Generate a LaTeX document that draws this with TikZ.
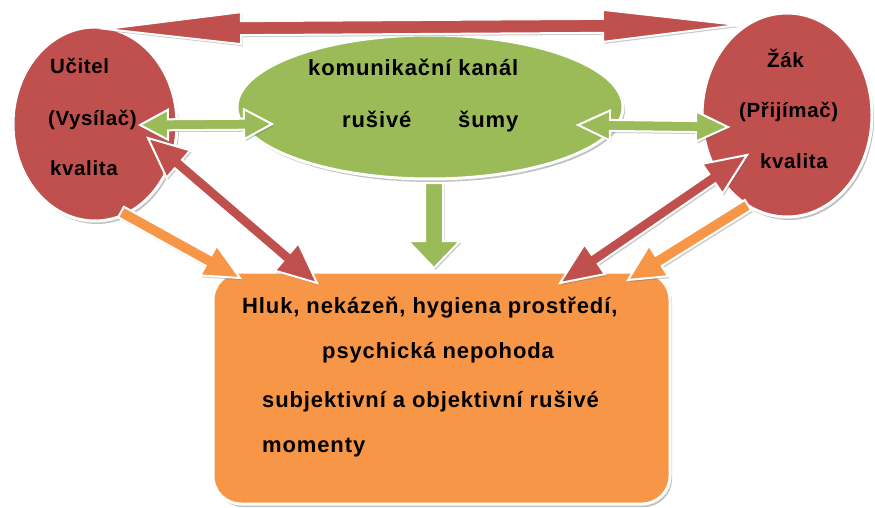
\documentclass[tikz,border=0pt]{standalone}
\usepackage{fontspec}
\setmainfont{Liberation Sans}
\usetikzlibrary{calc,shadows,shapes.geometric}
\definecolor{cred}{HTML}{C0504D}
\definecolor{cgreen}{HTML}{9BBB59}
\definecolor{corange}{HTML}{F79646}
\tikzset{
  blob/.style={shape=ellipse, draw=white, line width=3pt, inner sep=0pt,
    drop shadow={shadow xshift=2pt,shadow yshift=-3pt,opacity=0.4,fill=black!60}},
  boxshape/.style={shape=rectangle, rounded corners=28pt, draw=white, line width=3pt, inner sep=0pt,
    drop shadow={shadow xshift=2pt,shadow yshift=-3pt,opacity=0.4,fill=black!60}},
  barrow/.style={draw=white, line width=2pt, line join=miter,
    drop shadow={shadow xshift=1.5pt,shadow yshift=-2pt,opacity=0.35,fill=black!60}},
  lab/.style={anchor=base west, inner sep=0pt, text=black,
    font=\fontsize{22}{26}\selectfont\bfseries\addfontfeature{LetterSpace=4}},
  clab/.style={anchor=base west, inner sep=0pt, text=black,
    font=\fontsize{20.5}{24}\selectfont\bfseries\addfontfeature{LetterSpace=3}}
}
% double block arrow: tips #1,#2; shaft half width #3; head half width #4; head length #5; colour #6
\newcommand\dblarrow[6]{%
  \filldraw[barrow, fill=#6]
   (#1) -- ($(#1)!#5!(#2)!#4!90:(#2)$) -- ($(#1)!#5!(#2)!#3!90:(#2)$)
   -- ($(#2)!#5!(#1)!#3!-90:(#1)$) -- ($(#2)!#5!(#1)!#4!-90:(#1)$) -- (#2)
   -- ($(#2)!#5!(#1)!#4!90:(#1)$) -- ($(#2)!#5!(#1)!#3!90:(#1)$)
   -- ($(#1)!#5!(#2)!#3!-90:(#2)$) -- ($(#1)!#5!(#2)!#4!-90:(#2)$) -- cycle;}
% single block arrow: tail #1, tip #2
\newcommand\sglarrow[6]{%
  \filldraw[barrow, fill=#6]
   ($(#1)!#3!90:(#2)$) -- ($(#2)!#5!(#1)!#3!-90:(#1)$) -- ($(#2)!#5!(#1)!#4!-90:(#1)$) -- (#2)
   -- ($(#2)!#5!(#1)!#4!90:(#1)$) -- ($(#2)!#5!(#1)!#3!90:(#1)$) -- ($(#1)!#3!-90:(#2)$) -- cycle;}
\begin{document}
\begin{tikzpicture}[x=1pt,y=-1pt]
\useasboundingbox (0,0) rectangle (875,508);
% shapes
\node[blob, fill=cred, minimum width=164pt, minimum height=194pt] (uc) at (95,124) {};
\node[blob, fill=cred, minimum width=170pt, minimum height=204pt] (zak) at (787,115) {};
\node[blob, fill=cgreen, minimum width=386pt, minimum height=144pt] (kanal) at (430,107) {};
\node[boxshape, fill=corange, minimum width=457pt, minimum height=232pt] (box) at (441.5,388) {};
% arrow end points
\coordinate (topL) at (106,29);
\coordinate (topR) at (738,25);
\coordinate (gl1) at (140,125);
\coordinate (gl2) at (272,124);
\coordinate (gr1) at (578,125);
\coordinate (gr2) at (728,127);
\coordinate (gd1) at (434,183);
\coordinate (gd2) at (434,268);
\coordinate (rl1) at (148,138);
\coordinate (rl2) at (317,283);
\coordinate (ol1) at (121,212);
\coordinate (ol2) at (240,278);
\coordinate (rr1) at (747,155);
\coordinate (rr2) at (560,283);
\coordinate (or1) at (748,205);
\coordinate (or2) at (628,280);
% arrows
\dblarrow{topL}{topR}{7pt}{16pt}{135pt}{cred}
\dblarrow{gl1}{gl2}{5.5pt}{15pt}{28pt}{cgreen}
\dblarrow{gr1}{gr2}{5.5pt}{15pt}{32pt}{cgreen}
\sglarrow{gd1}{gd2}{9pt}{26pt}{27pt}{cgreen}
\dblarrow{rl1}{rl2}{5.5pt}{18pt}{40pt}{cred}
\sglarrow{ol1}{ol2}{6pt}{17pt}{36pt}{corange}
\dblarrow{rr1}{rr2}{5.5pt}{18pt}{42pt}{cred}
\sglarrow{or1}{or2}{6pt}{18pt}{36pt}{corange}
% texts
\node[clab] (t1) at (50,74) {Učitel};
\node[clab] (t2) at (48,126) {(Vysílač)};
\node[clab] (t3) at (50,175) {kvalita};
\node[clab] (t4) at (767,68) {Žák};
\node[clab] (t5) at (739,118) {(Přijímač)};
\node[clab] (t6) at (760,168) {kvalita};
\node[lab] (t7) at (308,76) {komunikační kanál};
\node[lab] (t8) at (342,128) {rušivé};
\node[lab] (t9) at (458,128) {šumy};
\node[lab] (b1) at (242,313) {Hluk, nekázeň, hygiena prostředí,};
\node[lab] (b2) at (322,358) {psychická nepohoda};
\node[lab] (b3) at (262,407) {subjektivní a objektivní rušivé};
\node[lab] (b4) at (262,452) {momenty};
\end{tikzpicture}
\end{document}
